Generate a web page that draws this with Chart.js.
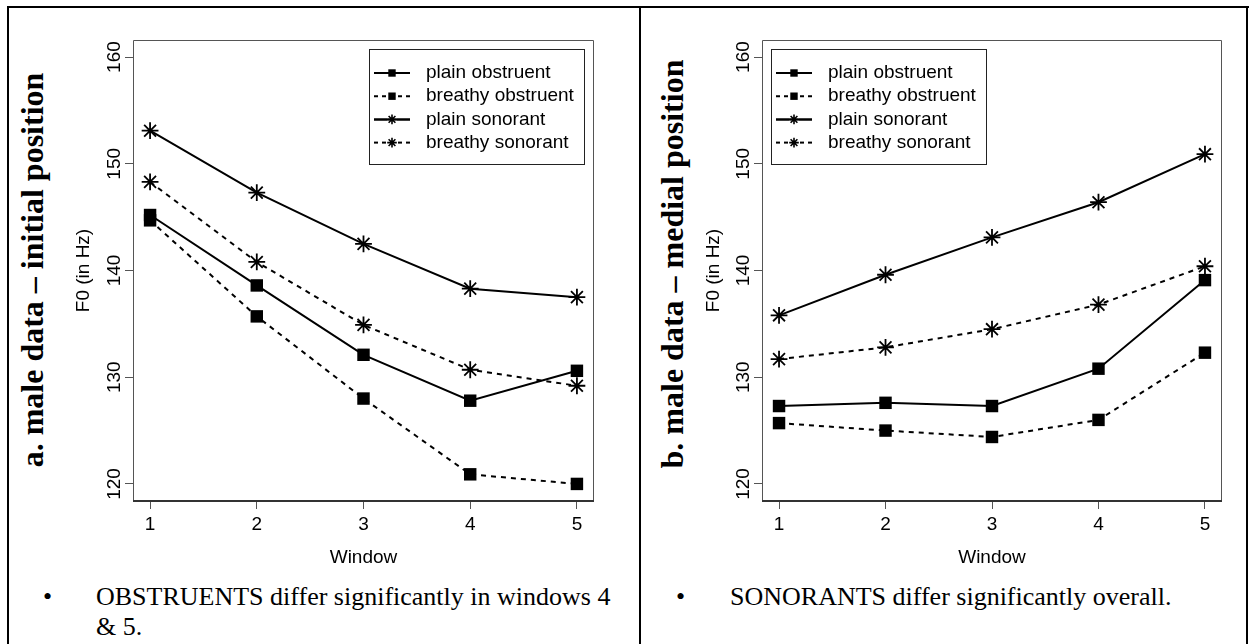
<!DOCTYPE html>
<html>
<head>
<meta charset="utf-8">
<script src="https://cdn.jsdelivr.net/npm/chart.js@4.4.1/dist/chart.umd.min.js"></script>
<style>
html,body{margin:0;padding:0;background:#fff;}
body{width:1255px;height:644px;position:relative;overflow:hidden;}
.bl{position:absolute;background:#000;}
.title{position:absolute;font-family:"Liberation Serif","Times New Roman",serif;font-weight:bold;font-size:32px;line-height:32px;white-space:nowrap;color:#000;transform:translate(-50%,-50%) rotate(-90deg);}
.txt{position:absolute;font-family:"Liberation Serif","Times New Roman",serif;font-size:26px;line-height:30px;white-space:nowrap;color:#000;}
canvas{position:absolute;}
</style>
</head>
<body>
<div class="bl" style="left:7px;top:6px;width:1242px;height:2px"></div>
<div class="bl" style="left:7px;top:6px;width:2px;height:640px"></div>
<div class="bl" style="left:639px;top:6px;width:2px;height:640px"></div>
<div class="bl" style="left:1246px;top:6px;width:2px;height:640px"></div>

<div class="title" style="left:32px;top:270px">a. male data – initial position</div>
<div class="title" style="left:672px;top:264px">b. male data – medial position</div>

<canvas id="chartA" width="560" height="580" style="left:60px;top:0px;width:560px;height:580px"></canvas>
<canvas id="chartB" width="560" height="580" style="left:690px;top:0px;width:560px;height:580px"></canvas>

<div class="txt" style="left:43px;top:582px">•</div>
<div class="txt" style="left:96px;top:582px">OBSTRUENTS differ significantly in windows 4<br>&amp; 5.</div>
<div class="txt" style="left:676px;top:582px">•</div>
<div class="txt" style="left:730px;top:582px">SONORANTS differ significantly overall.</div>

<script>
// ---- data ----
const windows = [1, 2, 3, 4, 5];
const yTickValues = [120, 130, 140, 150, 160];
const seriesNames = ['plain obstruent', 'breathy obstruent', 'plain sonorant', 'breathy sonorant'];

// a. initial position
const initialPlainObstruent   = [145.2, 138.6, 132.1, 127.8, 130.6];
const initialBreathyObstruent = [144.7, 135.7, 128.0, 120.9, 120.0];
const initialPlainSonorant    = [153.1, 147.3, 142.5, 138.3, 137.5];
const initialBreathySonorant  = [148.3, 140.8, 134.9, 130.7, 129.2];

// b. medial position
const medialPlainObstruent   = [127.3, 127.6, 127.3, 130.8, 139.1];
const medialBreathyObstruent = [125.7, 125.0, 124.4, 126.0, 132.3];
const medialPlainSonorant    = [135.8, 139.6, 143.1, 146.4, 150.9];
const medialBreathySonorant  = [131.7, 132.8, 134.5, 136.8, 140.4];

const SANS = '"Liberation Sans", Arial, Helvetica, sans-serif';
const DASH = [5, 5];

function makeDataset(label, values, dashed, style) {
  const isRect = style === 'rect';
  return {
    label: label,
    data: windows.map((w, i) => ({x: w, y: values[i]})),
    borderColor: '#000',
    backgroundColor: '#000',
    borderWidth: 2,
    borderDash: dashed ? DASH : [],
    pointStyle: style,
    pointRadius: isRect ? 8.8 : 8.4,
    pointHoverRadius: isRect ? 8.8 : 8.4,
    pointBorderWidth: isRect ? 0 : 1.8,
    pointBackgroundColor: '#000',
    pointBorderColor: '#000',
    tension: 0,
    fill: false
  };
}

const framePlugin = {
  id: 'frame',
  afterDatasetsDraw(chart) {
    const {ctx, chartArea: a} = chart;
    ctx.save();
    ctx.setLineDash([]);
    ctx.strokeStyle = '#555';
    ctx.lineWidth = 1;
    ctx.beginPath();
    ctx.moveTo(a.left + 0.5, a.bottom);
    ctx.lineTo(a.left + 0.5, a.top + 0.5);
    ctx.lineTo(a.right - 0.5, a.top + 0.5);
    ctx.lineTo(a.right - 0.5, a.bottom);
    ctx.stroke();
    ctx.strokeStyle = '#333';
    ctx.lineWidth = 2;
    ctx.beginPath();
    ctx.moveTo(a.left, a.bottom);
    ctx.lineTo(a.right, a.bottom);
    ctx.stroke();
    ctx.restore();
  }
};

function drawStar(ctx, cx, cy, r) {
  const d = r * Math.SQRT1_2;
  ctx.beginPath();
  ctx.moveTo(cx - r, cy); ctx.lineTo(cx + r, cy);
  ctx.moveTo(cx, cy - r); ctx.lineTo(cx, cy + r);
  ctx.moveTo(cx - d, cy - d); ctx.lineTo(cx + d, cy + d);
  ctx.moveTo(cx - d, cy + d); ctx.lineTo(cx + d, cy - d);
  ctx.stroke();
}

const legendPlugin = {
  id: 'rlegend',
  afterDraw(chart, args, opts) {
    const {ctx, chartArea: a} = chart;
    const w = 215, h = 115;
    const x0 = opts.side === 'right' ? Math.round(a.right - 10 - w) : Math.round(a.left + 9);
    const y0 = Math.round(a.top + 9);
    ctx.save();
    ctx.fillStyle = '#fff';
    ctx.fillRect(x0, y0, w, h);
    ctx.strokeStyle = '#222';
    ctx.lineWidth = 1;
    ctx.setLineDash([]);
    ctx.strokeRect(x0 + 0.5, y0 + 0.5, w, h);
    chart.data.datasets.forEach((d, i) => {
      const yy = y0 + 24 + i * 23.2;
      ctx.strokeStyle = '#000';
      ctx.lineWidth = 2;
      ctx.setLineDash(d.borderDash.length ? [4, 4] : []);
      ctx.beginPath();
      ctx.moveTo(x0 + 5, yy);
      ctx.lineTo(x0 + 41, yy);
      ctx.stroke();
      ctx.setLineDash([]);
      const cx = x0 + 23;
      ctx.fillStyle = '#fff';
      ctx.fillRect(cx - 5, yy - 1.5, 10, 3);
      if (!d.borderDash.length) {
        ctx.lineWidth = 2;
        ctx.beginPath(); ctx.moveTo(x0 + 5, yy); ctx.lineTo(x0 + 41, yy); ctx.stroke();
      }
      if (d.pointStyle === 'rect') {
        ctx.fillStyle = '#000';
        ctx.fillRect(cx - 3.7, yy - 3.7, 7.4, 7.4);
      } else {
        ctx.lineWidth = 1.6;
        drawStar(ctx, cx, yy, 4.8);
      }
      ctx.fillStyle = '#000';
      ctx.font = '19px ' + SANS;
      ctx.textBaseline = 'middle';
      ctx.textAlign = 'left';
      ctx.fillText(d.label, x0 + 57, yy);
    });
    ctx.restore();
  }
};

function makeChart(id, series, side, yAxisWidth, padRight) {
  const datasets = [
    makeDataset(seriesNames[0], series[0], false, 'rect'),
    makeDataset(seriesNames[1], series[1], true, 'rect'),
    makeDataset(seriesNames[2], series[2], false, 'star'),
    makeDataset(seriesNames[3], series[3], true, 'star')
  ];
  return new Chart(document.getElementById(id), {
    type: 'line',
    data: {datasets: datasets},
    plugins: [framePlugin, legendPlugin],
    options: {
      responsive: false,
      animation: false,
      events: [],
      layout: {padding: {top: 40, right: padRight, bottom: 9, left: 0}},
      plugins: {
        legend: {display: false},
        tooltip: {enabled: false},
        rlegend: {side: side}
      },
      scales: {
        x: {
          type: 'linear',
          min: 0.84,
          max: 5.16,
          afterBuildTicks: s => { s.ticks = windows.map(v => ({value: v})); },
          afterFit: s => { s.height = 70; },
          border: {display: false},
          grid: {display: true, drawOnChartArea: false, drawTicks: true, tickLength: 8, color: '#555', lineWidth: 1},
          ticks: {font: {size: 19, family: SANS}, color: '#000', padding: 4, autoSkip: false, maxRotation: 0, minRotation: 0},
          title: {display: true, text: 'Window', font: {size: 19, family: SANS}, color: '#000', padding: {top: 0, bottom: 2}}
        },
        y: {
          type: 'linear',
          min: 118.4,
          max: 161.6,
          afterBuildTicks: s => { s.ticks = yTickValues.map(v => ({value: v})); },
          afterFit: s => { s.width = yAxisWidth; },
          border: {display: false},
          grid: {display: true, drawOnChartArea: false, drawTicks: true, tickLength: 8, color: '#555', lineWidth: 1},
          ticks: {font: {size: 19, family: SANS}, color: '#000', padding: -6, minRotation: 90, maxRotation: 90, crossAlign: 'center', autoSkip: false},
          title: {display: true, text: 'F0 (in Hz)', font: {size: 19, family: SANS}, color: '#000', padding: {top: 12, bottom: 0}}
        }
      }
    }
  });
}

makeChart('chartA', [initialPlainObstruent, initialBreathyObstruent, initialPlainSonorant, initialBreathySonorant], 'right', 73, 26);
makeChart('chartB', [medialPlainObstruent, medialBreathyObstruent, medialPlainSonorant, medialBreathySonorant], 'left', 72, 28);
</script>
</body>
</html>
